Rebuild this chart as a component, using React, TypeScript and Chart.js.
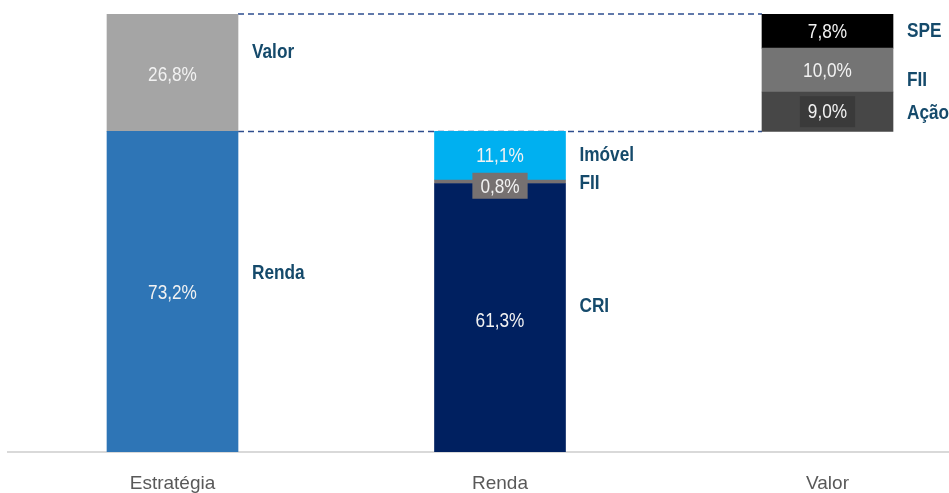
import React, { useEffect, useRef } from 'react';
import { Chart, registerables } from 'chart.js';

Chart.register(...registerables);

// ---- data ----
const categories = ['Estratégia', 'Renda', 'Valor'];

const estrategiaSeries = ['Renda', 'Valor'];
const estrategiaValues = [73.2, 26.8];

const rendaSeries = ['CRI', 'FII', 'Imóvel'];
const rendaValues = [61.3, 0.8, 11.1];

const valorSeries = ['Ação', 'FII', 'SPE'];
const valorValues = [9.0, 10.0, 7.8];

// ---- styles ----
const estrategiaColors = ['#2E75B6', '#A5A5A5'];
const rendaColors = ['#002060', '#767171', '#00B0F0'];
const valorColors = ['#474747', '#747474', '#000000'];

// label nudges in px (series name, value label)
const estrategiaNameNudge = [-19, -21];
const rendaNameNudge = [-13, 0, -1];
const valorNameNudge = [1, 9, -1];
const estrategiaValueNudge = [1, 2];
const rendaValueNudge = [2, 4, 0];
const valorValueNudge = [0, 0, 0];
const rendaValueBg = [null, '#767171', null];
const valorValueBg = ['#3A3A3A', null, null];
const rendaValueBgH = [0, 26, 0];
const valorValueBgH = [31, 0, 0];

const FONT = "'Liberation Sans', Arial, sans-serif";
const NARROW_SCALE = 0.82;
const NAME_COLOR = '#154A6B';
const BAR_W = 131;

const fmt = (v: number) => v.toFixed(1).replace('.', ',') + '%';

function buildColumn(
  col: number,
  base: number,
  names: string[],
  values: number[],
  colors: string[],
  nameNudge: number[],
  valueNudge: number[],
  valueBg: (string | null)[],
  valueBgH: number[]
) {
  let start = base;
  return values.map((v, i) => {
    const end = start + v;
    const ds: any = {
      label: categories[col] + ' - ' + names[i],
      data: [{ x: col, y: [start, end] }],
      backgroundColor: colors[i],
      borderWidth: 0,
      barThickness: BAR_W,
      grouped: false,
      seriesName: names[i],
      valueText: fmt(v),
      nameNudge: nameNudge[i],
      valueNudge: valueNudge[i],
      valueBg: valueBg[i],
      valueBgH: valueBgH[i],
    };
    start = end;
    return ds;
  });
}

function narrowText(ctx: CanvasRenderingContext2D, text: string, x: number, y: number, align: 'left' | 'center') {
  ctx.save();
  ctx.translate(x, y);
  ctx.scale(NARROW_SCALE, 1);
  ctx.textAlign = align;
  ctx.textBaseline = 'middle';
  ctx.fillText(text, 0, 0);
  ctx.restore();
}

const labelPlugin = {
  id: 'segLabels',
  beforeDatasetsDraw(chart: any) {
    const { ctx, scales } = chart;
    const xs = scales.x;
    const ys = scales.y;
    const x0 = xs.getPixelForValue(0) + BAR_W / 2;
    const x1 = xs.getPixelForValue(2) - BAR_W / 2;
    const total = estrategiaValues.reduce((a, b) => a + b, 0);
    const levels = [total, estrategiaValues[0]];
    ctx.save();
    ctx.strokeStyle = '#2E4E8E';
    ctx.lineWidth = 1.5;
    ctx.setLineDash([6, 4]);
    levels.forEach((lv) => {
      const y = ys.getPixelForValue(lv);
      ctx.beginPath();
      ctx.moveTo(x0, y);
      ctx.lineTo(x1, y);
      ctx.stroke();
    });
    ctx.restore();
  },
  afterDatasetsDraw(chart: any) {
    const { ctx } = chart;
    ctx.save();
    chart.data.datasets.forEach((ds: any, di: number) => {
      const meta = chart.getDatasetMeta(di);
      const bar: any = meta.data[0];
      if (!bar) return;
      const cx = bar.x;
      const top = Math.min(bar.y, bar.base);
      const bottom = Math.max(bar.y, bar.base);
      const cy = (top + bottom) / 2;
      // value label
      ctx.font = `21px ${FONT}`;
      const vy = cy + ds.valueNudge;
      if (ds.valueBg) {
        const w = ctx.measureText(ds.valueText).width * NARROW_SCALE + 16;
        const h = ds.valueBgH;
        ctx.fillStyle = ds.valueBg;
        ctx.fillRect(cx - w / 2, vy - h / 2, w, h);
      }
      ctx.fillStyle = '#F2F2F2';
      narrowText(ctx, ds.valueText, cx, vy + 1, 'center');
      // series name
      ctx.font = `bold 21px ${FONT}`;
      ctx.fillStyle = NAME_COLOR;
      narrowText(ctx, ds.seriesName, cx + bar.width / 2 + 14, cy + ds.nameNudge + 1, 'left');
    });
    ctx.restore();
  },
};

export default function App() {
  const ref = useRef<HTMLCanvasElement | null>(null);
  useEffect(() => {
    if (!ref.current) return;
    const datasets = [
      ...buildColumn(0, 0, estrategiaSeries, estrategiaValues, estrategiaColors, estrategiaNameNudge, estrategiaValueNudge, [null, null], [0, 0]),
      ...buildColumn(1, 0, rendaSeries, rendaValues, rendaColors, rendaNameNudge, rendaValueNudge, rendaValueBg, rendaValueBgH),
      ...buildColumn(2, estrategiaValues[0], valorSeries, valorValues, valorColors, valorNameNudge, valorValueNudge, valorValueBg, valorValueBgH),
    ];
    const chart = new Chart(ref.current, {
      type: 'bar',
      data: { datasets },
      options: {
        animation: false,
        responsive: true,
        maintainAspectRatio: false,
        layout: { padding: { top: 14, left: 8, right: 0, bottom: 0 } },
        plugins: { legend: { display: false }, tooltip: { enabled: false } },
        scales: {
          x: {
            type: 'linear',
            offset: false,
            min: -0.5023,
            max: 2.371,
            grid: { display: false, offset: false },
            border: { display: true, color: '#D9D9D9', width: 2 },
            ticks: {
              padding: 12,
              color: '#595959',
              font: { family: FONT, size: 19 },
              callback: (v: any) => categories[v] ?? '',
            },
            afterBuildTicks: (s: any) => {
              s.ticks = categories.map((_, i) => ({ value: i }));
            },
            afterFit: (s: any) => {
              s.height = 41;
            },
          },
          y: { display: false, min: 0, max: 100 },
        },
      } as any,
      plugins: [labelPlugin],
    });
    return () => chart.destroy();
  }, []);
  return (
    <div style={{ position: 'fixed', left: 0, top: 0, width: 949, height: 493 }}>
      <canvas ref={ref} />
    </div>
  );
}
